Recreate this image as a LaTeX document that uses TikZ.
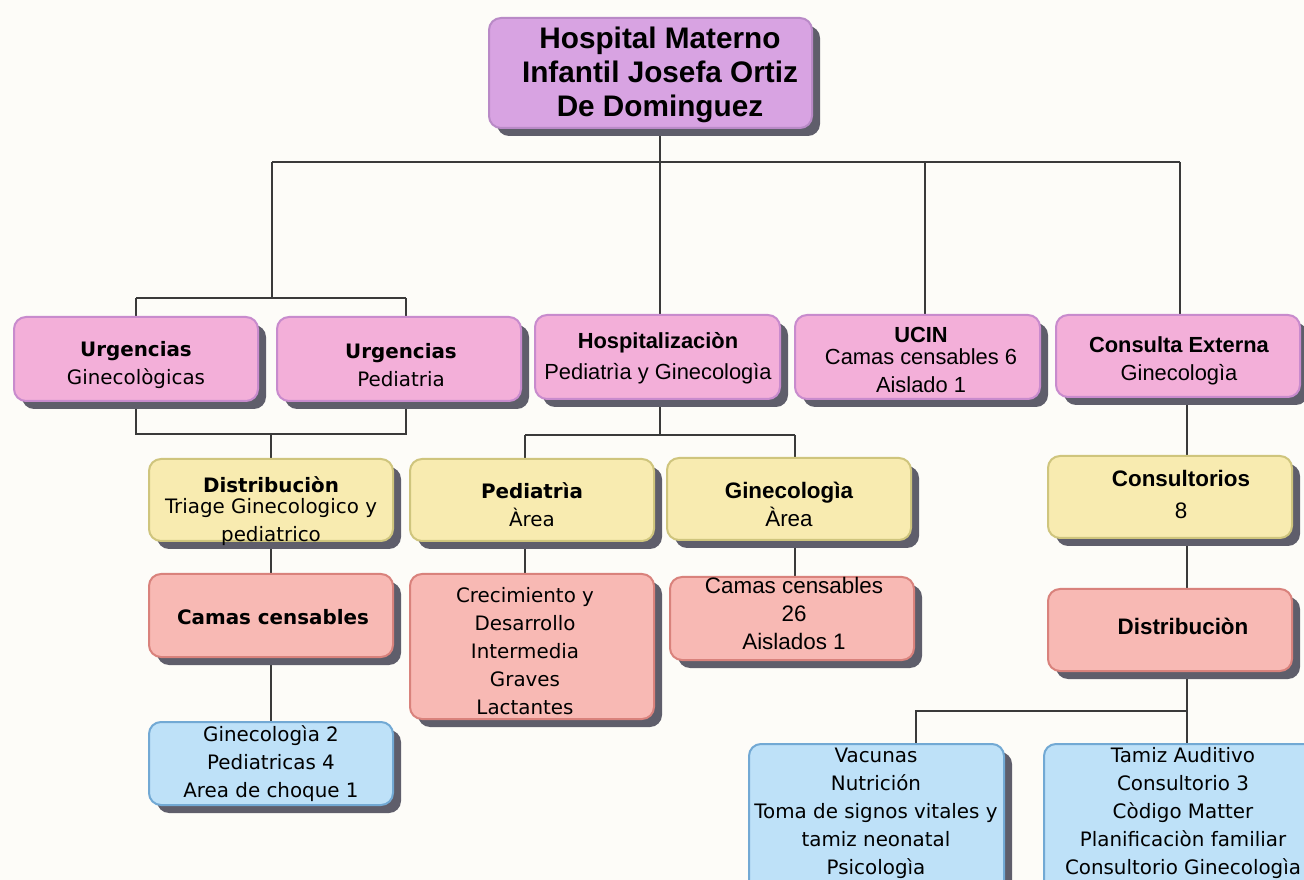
\documentclass[tikz,border=0pt]{standalone}
\usepackage{fontspec}
\setmainfont{DejaVu Sans}
\newfontfamily\arialf{Liberation Sans}
\usetikzlibrary{shadows,backgrounds,fit}
\definecolor{bgc}{HTML}{FDFCF8}
\definecolor{shadc}{HTML}{5F5E6B}
\definecolor{linec}{HTML}{3A3A3A}
\definecolor{purf}{HTML}{D8A3E2}\definecolor{purd}{HTML}{B98AC7}
\definecolor{pinf}{HTML}{F3AFD9}\definecolor{pind}{HTML}{C88BCD}
\definecolor{yelf}{HTML}{F8EBB0}\definecolor{yeld}{HTML}{CFC57D}
\definecolor{redf}{HTML}{F8B9B4}\definecolor{redd}{HTML}{D9827C}
\definecolor{bluf}{HTML}{BEE1F8}\definecolor{blud}{HTML}{72A9D4}
\newcommand\ftitle{\arialf\bfseries\fontsize{22.3}{25.5}\selectfont}
\newcommand\finter{\fontsize{14.9}{21}\selectfont}
\newcommand\fblue{\fontsize{14.9}{21}\selectfont}
\newcommand\farial{\arialf\fontsize{16.8}{21}\selectfont}
\newcommand\fcond{\arialf\fontsize{16.4}{21}\selectfont}
\tikzset{
  box/.style={rectangle, rounded corners=9pt, line width=1.5pt, inner sep=0pt,
    drop shadow={shadow xshift=6pt, shadow yshift=-6pt, fill=shadc, opacity=1}},
  purbox/.style={box, fill=purf, draw=purd},
  pinbox/.style={box, fill=pinf, draw=pind},
  yelbox/.style={box, fill=yelf, draw=yeld},
  redbox/.style={box, fill=redf, draw=redd},
  blubox/.style={box, fill=bluf, draw=blud},
  txt/.style={align=center, inner sep=0pt, text=black},
  conn/.style={draw=linec, line width=1.1pt},
}
\begin{document}
\begin{tikzpicture}[x=0.75pt, y=-0.75pt]
\useasboundingbox (0,0) rectangle (1304,880);
\clip (0,0) rectangle (1304,880);
% boxes
\node[purbox, fit={(489,18) (812,128)}] (title) {};
\node[pinbox, fit={(14,317) (258,401)}] (urgG) {};
\node[pinbox, fit={(277,317) (521,401)}] (urgP) {};
\node[pinbox, fit={(535,315) (780,399)}] (hosp) {};
\node[pinbox, fit={(795,315) (1040,399)}] (ucin) {};
\node[pinbox, fit={(1056,315) (1300,397)}] (cext) {};
\node[yelbox, fit={(149,459) (393,541)}] (dist) {};
\node[yelbox, fit={(410,459) (654,541)}] (ped) {};
\node[yelbox, fit={(667,458) (911,540)}] (gin) {};
\node[yelbox, fit={(1048,456) (1292,538)}] (consul) {};
\node[redbox, fit={(149,574) (393,657)}] (camasL) {};
\node[redbox, fit={(410,574) (654,719)}] (crec) {};
\node[redbox, fit={(670,577) (914,660)}] (camasR) {};
\node[redbox, fit={(1048,589) (1292,671)}] (distR) {};
\node[blubox, fit={(149,722) (393,805)}] (blueL) {};
\node[blubox, fit={(749,744) (1004,905)}] (vac) {};
\node[blubox, fit={(1044,744) (1325,905)}] (tamiz) {};
% texts
\node[txt, font=\ftitle] (tTitle) at (660,75) {Hospital Materno\\Infantil Josefa Ortiz\\De Dominguez};
\node[txt, font=\finter] (tUrgG) at (136,365) {\textbf{Urgencias}\\Ginecològicas};
\node[txt, font=\finter] (tUrgP) at (401,365) {\textbf{Urgencias}\\Pediatria};
\node[txt, font=\fcond] (tHosp) at (658,358) {\textbf{Hospitalizaciòn}\\[2pt]Pediatrìa y Ginecologìa};
\node[txt, font=\fcond] (tUcin) at (921,360) {\textbf{UCIN}\\[-5pt]Camas censables 6\\Aislado 1};
\node[txt, font=\fcond] (tCext) at (1179,361) {\textbf{Consulta Externa}\\Ginecologìa};
\node[txt, font=\finter] (tDist) at (271,511) {\textbf{Distribuciòn}\\[-5pt]Triage Ginecologico y\\pediatrico};
\node[txt, font=\finter] (tPed) at (532,505) {\textbf{Pediatrìa}\\Àrea};
\node[txt, font=\farial] (tGin) at (789,504) {\textbf{Ginecologìa}\\Àrea};
\node[txt, font=\farial] (tConsul) at (1181,494) {\textbf{Consultorios}\\[3pt]8};
\node[txt, font=\finter] (tCamasL) at (273,617) {\textbf{Camas censables}};
\node[txt, font=\finter] (tCrec) at (525,651) {Crecimiento y\\Desarrollo\\Intermedia\\Graves\\Lactantes};
\node[txt, font=\farial] (tCamasR) at (794,613) {Camas censables\\26\\Aislados 1};
\node[txt, font=\farial] (tDistR) at (1183,626) {\textbf{Distribuciòn}};
\node[txt, font=\fblue] (tBlueL) at (271,764) {Ginecologìa 2\\Pediatricas 4\\Area de choque 1};
\node[txt, font=\fblue] (tVac) at (876,813) {Vacunas\\Nutrición\\Toma de signos vitales y\\tamiz neonatal\\Psicologìa};
\node[txt, font=\fblue] (tTamiz) at (1183,813) {Tamiz Auditivo\\Consultorio 3\\Còdigo Matter\\Planificaciòn familiar\\Consultorio Ginecologìa};
% connectors
\begin{pgfonlayer}{background}
\fill[bgc] (0,0) rectangle (1304,880);
\coordinate (j0) at (660,162);
\coordinate (jL) at (272,162);
\coordinate (jR) at (1180,162);
\coordinate (jC) at (925,162);
\coordinate (jU) at (272,298);
\coordinate (jUl) at (136,298);
\coordinate (jUr) at (406,298);
\coordinate (kL) at (136,434);
\coordinate (kR) at (406,434);
\coordinate (kM) at (271,434);
\coordinate (h1) at (660,435);
\coordinate (hL) at (525,435);
\coordinate (hR) at (795,435);
\coordinate (cx) at (1187,420);
\coordinate (dB) at (1187,711);
\coordinate (dL) at (916,711);
\draw[conn] (title.south -| j0) -- (j0);
\draw[conn] (jL) -- (jR);
\draw[conn] (jL) -- (jU);
\draw[conn] (jUl) -- (jUr);
\draw[conn] (jUl) -- (jUl |- urgG.north);
\draw[conn] (jUr) -- (jUr |- urgP.north);
\draw[conn] (j0) -- (j0 |- hosp.north);
\draw[conn] (jC) -- (jC |- ucin.north);
\draw[conn] (jR) -- (jR |- cext.north);
\draw[conn] (kL |- urgG.south) -- (kL) -- (kR) -- (kR |- urgP.south);
\draw[conn] (kM) -- (kM |- dist.north);
\draw[conn] (dist.south -| kM) -- (camasL.north -| kM);
\draw[conn] (camasL.south -| kM) -- (blueL.north -| kM);
\draw[conn] (hosp.south -| h1) -- (h1);
\draw[conn] (hL) -- (hR);
\draw[conn] (hL) -- (hL |- ped.north);
\draw[conn] (hR) -- (hR |- gin.north);
\draw[conn] (ped.south -| hL) -- (crec.north -| hL);
\draw[conn] (gin.south -| hR) -- (camasR.north -| hR);
\draw[conn] (cext.south -| cx) -- (consul.north -| cx);
\draw[conn] (consul.south -| cx) -- (distR.north -| cx);
\draw[conn] (distR.south -| dB) -- (dB) -- (dB |- tamiz.north);
\draw[conn] (dB) -- (dL) -- (dL |- vac.north);
\end{pgfonlayer}
\end{tikzpicture}
\end{document}
